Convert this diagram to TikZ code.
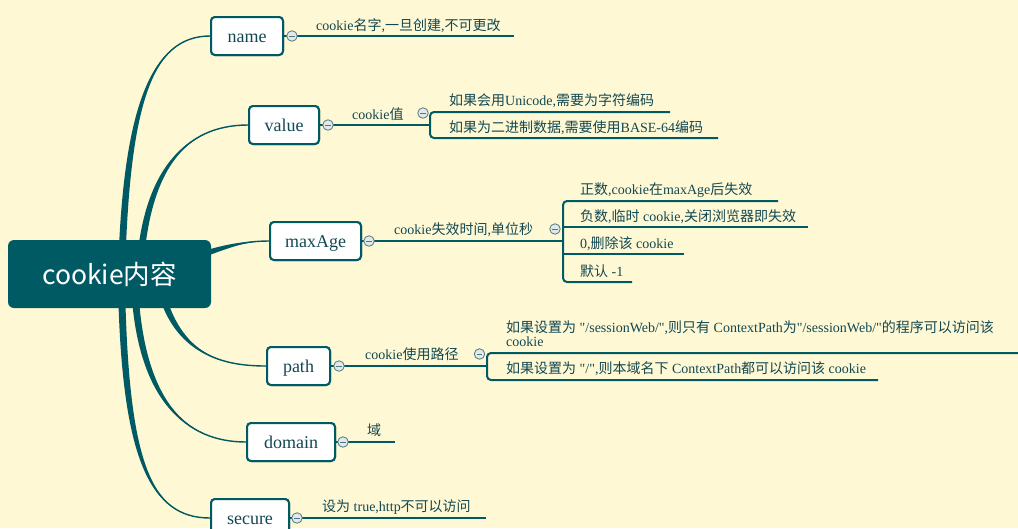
\documentclass[tikz,border=0pt]{standalone}
\usepackage{fontspec}
\setmainfont{Liberation Serif}
\newfontfamily\plainq{Liberation Serif}
\newfontfamily\cjk{Noto Sans CJK SC}
\usetikzlibrary{calc}
\definecolor{bg}{RGB}{255,248,212}
\definecolor{tealA}{RGB}{0,90,100}
\definecolor{txtA}{RGB}{18,72,82}
\definecolor{knobfill}{RGB}{226,233,233}
\definecolor{knobline}{RGB}{80,120,130}
\newcommand\zh[1]{{\cjk #1}}
\newcommand\dq{{\plainq"}}
\newcommand\branchcurve[5]{%
  \fill[tealA] ($#1+#5$) .. controls ($#2+#5$) and #3 .. #4 .. controls #3 and ($#2-#5$) .. ($#1-#5$) -- cycle;
  \draw[tealA, line width=1.4pt] #1 .. controls #2 and #3 .. #4;}
\tikzset{
  childbox/.style={draw=tealA, line width=2pt, rounded corners=4pt, fill=white,
    minimum height=38pt, inner sep=0pt, text height=14pt, text depth=2pt,
    text=txtA, font=\fontsize{18}{20}\selectfont},
  rootbox/.style={fill=tealA, rounded corners=6pt, minimum width=203pt, minimum height=68pt,
    inner sep=0pt, text=white, font=\cjk\fontsize{26.5}{28}\selectfont},
  lbl/.style={anchor=base west, inner sep=0pt, text=txtA, font=\fontsize{14}{14}\selectfont},
  conn/.style={draw=tealA, line width=2pt},
  knob/.style={circle, draw=knobline, fill=knobfill, line width=0.8pt, minimum size=10.5pt, inner sep=0pt,
    path picture={\draw[knobline, line width=0.9pt]
      ($(path picture bounding box.center)-(2.7pt,0pt)$) -- ($(path picture bounding box.center)+(2.7pt,0pt)$);}}
}
\begin{document}
\begin{tikzpicture}[x=1pt, y=-1pt]
\fill[bg] (0,0) rectangle (1018,528);
\useasboundingbox (0,0) rectangle (1018,528);

% child node positions (named, drawn on top later)
\path (247,36) coordinate (cname) (284,125) coordinate (cvalue) (315.5,241) coordinate (cmax)
      (298.5,366) coordinate (cpath) (291,442) coordinate (cdomain) (250,518) coordinate (csecure);

\node[childbox, minimum width=72pt] (name) at (cname) {name};
\node[childbox, minimum width=70pt] (value) at (cvalue) {value};
\node[childbox, minimum width=91pt] (maxage) at (cmax) {maxAge};
\node[childbox, minimum width=63pt] (path) at (cpath) {path};
\node[childbox, minimum width=88pt] (domain) at (cdomain) {domain};
\node[childbox, minimum width=78pt] (secure) at (csecure) {secure};

\path (109.5,274) coordinate (rootc);
\coordinate (b1) at ($(rootc)+(12,0)$);
\coordinate (b2) at ($(rootc)+(30,0)$);
\coordinate (b3) at ($(rootc)+(70,-12)$);
\coordinate (b4) at ($(rootc)+(50,11)$);
\coordinate (b5) at ($(rootc)+(25,11)$);
\coordinate (b6) at ($(rootc)+(12,11)$);

% branches from root to children (tapered)
\branchcurve{(b1)}{(126,110)}{(150,36)}{(name.west)}{(3.5,0)}
\branchcurve{(b2)}{(145,170)}{(185,125)}{(value.west)}{(3.5,0)}
\branchcurve{(b3)}{(222,248)}{(240,241)}{(maxage.west)}{(0,3.5)}
\branchcurve{(b4)}{(175,350)}{(215,366)}{(path.west)}{(3.5,0)}
\branchcurve{(b5)}{(140,400)}{(185,442)}{(domain.west)}{(3.5,0)}
\branchcurve{(b6)}{(125,460)}{(150,518)}{(secure.west)}{(3.5,0)}

\node[rootbox] (root) at (rootc) {cookie内容};

% child boxes again, over the branch ends
\node[childbox, minimum width=72pt] at (cname) {name};
\node[childbox, minimum width=70pt] at (cvalue) {value};
\node[childbox, minimum width=91pt] at (cmax) {maxAge};
\node[childbox, minimum width=63pt] at (cpath) {path};
\node[childbox, minimum width=88pt] at (cdomain) {domain};
\node[childbox, minimum width=78pt] at (csecure) {secure};

% ---- name
\coordinate (nameEnd) at (514,36);
\draw[conn] (name.east) -- (nameEnd);
\node[knob] (kname) at ($(name.east)+(8,0)$) {};
\node[lbl] (lname) at (316,30) {cookie\zh{名字},\zh{一旦创建},\zh{不可更改}};

% ---- value
\coordinate (vj) at (430,125);
\coordinate (vt) at (430,112);
\coordinate (vb) at (430,138);
\coordinate (vte) at (670,112);
\coordinate (vbe) at (718,138);
\draw[conn] (value.east) -- (vj);
\draw[conn, rounded corners=4pt] (vte) -- (vt) -- (vb) -- (vbe);
\node[knob] (kvalue) at ($(value.east)+(8,0)$) {};
\node[knob] (kvalue2) at (423,113) {};
\node[lbl] (lvalue) at (352,119) {cookie\zh{值}};
\node[lbl] (v1) at (449,105) {\zh{如果会用}Unicode,\zh{需要为字符编码}};
\node[lbl] (v2) at (449,132) {\zh{如果为二进制数据},\zh{需要使用}BASE-64\zh{编码}};

% ---- maxAge
\coordinate (mj) at (563,241);
\coordinate (mt) at (563,201);
\coordinate (mb) at (563,282);
\draw[conn] (maxage.east) -- (mj);
\draw[conn, rounded corners=4pt] (778,201) -- (mt) -- (mb) -- (632,282);
\draw[conn] (563,227) -- (808,227);
\draw[conn] (563,254) -- (684,254);
\node[knob] (kmax) at ($(maxage.east)+(7,0)$) {};
\node[knob] (kmax2) at (555,229) {};
\node[lbl] (lmax) at (394,234) {cookie\zh{失效时间},\zh{单位秒}};
\node[lbl] (m1) at (580,194) {\zh{正数},cookie\zh{在}maxAge\zh{后失效}};
\node[lbl] (m2) at (580,221) {\zh{负数},\zh{临时} cookie,\zh{关闭浏览器即失效}};
\node[lbl] (m3) at (580,248) {0,\zh{删除该} cookie};
\node[lbl] (m4) at (580,276) {\zh{默认} -1};

% ---- path
\coordinate (pj) at (487,366);
\coordinate (pt) at (487,353);
\coordinate (pb) at (487,380);
\draw[conn] (path.east) -- (pj);
\draw[conn, rounded corners=4pt] (1018,353) -- (pt) -- (pb) -- (878,380);
\node[knob] (kpath) at ($(path.east)+(8,0)$) {};
\node[knob] (kpath2) at (479.5,354) {};
\node[lbl] (lpath) at (365,359) {cookie\zh{使用路径}};
\node[lbl] (p1) at (506,332) {\renewcommand\arraystretch{1}\begin{tabular}[t]{@{}l@{}}\zh{如果设置为} \dq/sessionWeb/\dq,\zh{则只有} ContextPath\zh{为}\dq/sessionWeb/\dq\zh{的程序可以访问该}\\cookie\end{tabular}};
\node[lbl] (p2) at (506,373) {\zh{如果设置为} \dq/\dq,\zh{则本域名下} ContextPath\zh{都可以访问该} cookie};

% ---- domain
\coordinate (dEnd) at (395,442);
\draw[conn] (domain.east) -- (dEnd);
\node[knob] (kdom) at ($(domain.east)+(7,0)$) {};
\node[lbl] (ldom) at (367,435) {\zh{域}};

% ---- secure
\coordinate (sEnd) at (486,518);
\draw[conn] (secure.east) -- (sEnd);
\node[knob] (ksec) at ($(secure.east)+(7,0)$) {};
\node[lbl] (lsec) at (322,511) {\zh{设为} true,http\zh{不可以访问}};
\end{tikzpicture}
\end{document}
